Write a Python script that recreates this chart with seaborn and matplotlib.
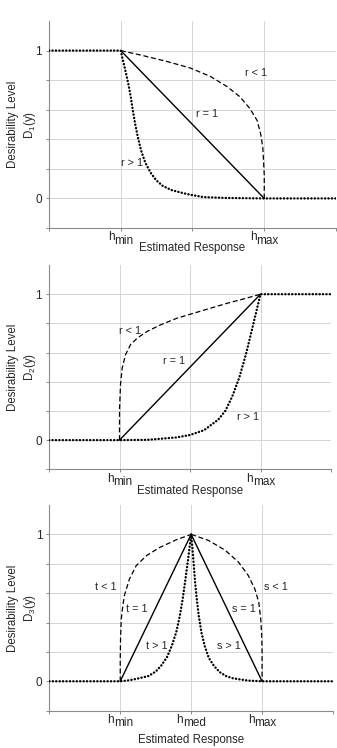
import numpy as np
import matplotlib
matplotlib.use("Agg")
import matplotlib.pyplot as plt
import seaborn as sns

# ---- data (x: 0..4, hmin=1, hmed=2, hmax=3) ----
# panel 1: D1(y), decreasing
d1_eq1_x = [1.0, 3.0]
d1_eq1_y = [1.0, 0.0]
d1_lt1_x = [1.0, 1.31, 1.64, 1.97, 2.25, 2.48, 2.66, 2.80, 2.90, 2.95, 2.98, 2.99, 3.0, 3.0]
d1_lt1_y = [1.0, 0.966, 0.927, 0.882, 0.825, 0.757, 0.688, 0.608, 0.528, 0.437, 0.346, 0.255, 0.16, 0.0]
d1_gt1_x = [0.0, 1.0, 1.023, 1.051, 1.079, 1.107, 1.135, 1.168, 1.200, 1.238, 1.284, 1.340,
            1.415, 1.494, 1.587, 1.704, 1.844, 1.937, 2.15, 2.48, 3.0, 4.0]
d1_gt1_y = [1.0, 1.0, 0.950, 0.893, 0.834, 0.772, 0.699, 0.597, 0.506, 0.415, 0.323, 0.244,
            0.175, 0.123, 0.084, 0.057, 0.039, 0.028, 0.009, 0.003, 0.0, 0.0]

# panel 2: D2(y), increasing
d2_eq1_x = [1.0, 3.0]
d2_eq1_y = [0.0, 1.0]
d2_lt1_x = [1.0, 1.0, 1.014, 1.038, 1.085, 1.156, 1.251, 1.392, 1.582, 1.818, 2.054, 2.291, 2.527, 2.764, 3.0]
d2_lt1_y = [0.0, 0.2, 0.38, 0.494, 0.585, 0.654, 0.699, 0.745, 0.790, 0.836, 0.870, 0.904, 0.938, 0.968, 1.0]
d2_gt1_x = [0.0, 1.0, 1.4, 1.8, 2.0, 2.2, 2.4, 2.5, 2.6, 2.7, 2.8, 2.85, 2.9, 2.95, 3.0, 4.0]
d2_gt1_y = [0.0, 0.0, 0.002, 0.018, 0.035, 0.068, 0.14, 0.2, 0.3, 0.43, 0.6, 0.7, 0.8, 0.9, 1.0, 1.0]

# panel 3: D3(y), two-sided
d3_eq1_x = [1.0, 2.0, 3.0]
d3_eq1_y = [0.0, 1.0, 0.0]
d3_tlt1_x = [1.0, 1.0, 1.005, 1.014, 1.033, 1.057, 1.129, 1.224, 1.367, 1.557, 1.795, 2.0]
d3_tlt1_y = [0.0, 0.15, 0.3, 0.42, 0.5, 0.581, 0.695, 0.786, 0.854, 0.911, 0.964, 1.0]
d3_slt1_x = [2.0, 2.243, 2.477, 2.664, 2.804, 2.897, 2.953, 2.981, 2.995, 3.0, 3.0]
d3_slt1_y = [1.0, 0.959, 0.893, 0.813, 0.721, 0.630, 0.539, 0.425, 0.311, 0.2, 0.0]
d3_tgt1_x = [0.0, 1.0, 1.1, 1.224, 1.40, 1.50, 1.58, 1.66, 1.73, 1.79, 1.84, 1.88, 1.913, 1.945, 1.975, 2.0]
d3_tgt1_y = [0.0, 0.0, 0.005, 0.016, 0.036, 0.066, 0.108, 0.165, 0.245, 0.335, 0.444, 0.558, 0.672, 0.786, 0.900, 1.0]
d3_sgt1_x = [2.0, 2.019, 2.038, 2.056, 2.080, 2.108, 2.146, 2.192, 2.249, 2.324, 2.404, 2.498, 2.592, 2.8, 3.0, 4.0]
d3_sgt1_y = [1.0, 0.900, 0.786, 0.672, 0.558, 0.444, 0.330, 0.239, 0.159, 0.103, 0.062, 0.034, 0.020, 0.005, 0.0, 0.0]

ticks_12 = [1, 3]
subs_12 = ["min", "max"]
ticks_3 = [1, 2, 3]
subs_3 = ["min", "med", "max"]

sns.set_theme(style="whitegrid")
plt.rcParams["font.family"] = ["Liberation Sans", "DejaVu Sans"]
plt.rcParams["mathtext.fontset"] = "custom"
plt.rcParams["mathtext.rm"] = "Liberation Sans"

GRID = "#d4d4d4"
AXC = "#8a8a8a"
hlabels = []


def style_axes(ax, ticks, subs, ylabel, xlab_y):
    ax.set_xlim(0, 4)
    ax.set_ylim(-0.2, 1.2)
    ax.set_xticks([0, 1, 2, 3, 4])
    ax.set_xticklabels([])
    ax.set_yticks([0, 1])
    ax.set_yticklabels(["0", "1"], fontsize=8.5)
    ax.set_yticks([-0.2, 0.2, 0.4, 0.6, 0.8], minor=True)
    ax.grid(True, which="major", color=GRID, lw=0.7)
    ax.grid(True, which="minor", axis="y", color=GRID, lw=0.7)
    ax.tick_params(axis="both", which="both", direction="out", length=2.5, width=0.7,
                   color=AXC, pad=2.5, bottom=True, left=True)
    for s in ["top", "right"]:
        ax.spines[s].set_visible(False)
    for s in ["left", "bottom"]:
        ax.spines[s].set_color(AXC)
        ax.spines[s].set_linewidth(0.8)
    # h with a full-size, lowered subscript, like the original tick labels
    for x, sub in zip(ticks, subs):
        t1 = ax.annotate("h", xy=(x, 0), xycoords=("data", "axes fraction"), xytext=(0, -9),
                         textcoords="offset points", ha="left", va="baseline", fontsize=8.5)
        t2 = ax.annotate(sub, xy=(x, 0), xycoords=("data", "axes fraction"), xytext=(0, -11.3),
                         textcoords="offset points", ha="left", va="baseline", fontsize=8.5)
        hlabels.append((t1, t2))
    ax.set_xlabel("Estimated Response", fontsize=8.3, va="baseline")
    ax.xaxis.set_label_coords(0.5, xlab_y)
    ax.set_ylabel(ylabel, fontsize=8.3, linespacing=1.25)
    ax.yaxis.set_label_coords(-0.039, 0.5)


def draw(ax, x, y, kind):
    if kind == "solid":
        sns.lineplot(x=x, y=y, ax=ax, estimator=None, sort=False, color="black", lw=1.0, zorder=3)
    elif kind == "dash":
        sns.lineplot(x=x, y=y, ax=ax, estimator=None, sort=False, color="black", lw=0.9,
                     linestyle=(0, (4, 2.2)), zorder=3)
    else:
        sns.lineplot(x=x, y=y, ax=ax, estimator=None, sort=False, color="black", lw=1.7,
                     linestyle=(0, (0.1, 1.35)), dash_capstyle="round", zorder=4)


fig = plt.figure(figsize=(3.37, 7.48), dpi=100)
ax1 = fig.add_axes([0.1454, 0.6952, 0.8516, 0.2767])
ax2 = fig.add_axes([0.1454, 0.3726, 0.8368, 0.2731])
ax3 = fig.add_axes([0.1463, 0.0499, 0.8418, 0.2750])

# panel 1
draw(ax1, d1_eq1_x, d1_eq1_y, "solid")
draw(ax1, d1_lt1_x, d1_lt1_y, "dash")
draw(ax1, d1_gt1_x, d1_gt1_y, "dot")
style_axes(ax1, ticks_12, subs_12, "Desirability Level\n$\\mathregular{D_1(y)}$", -0.112)
ax1.text(2.88, 0.85, "r < 1", fontsize=7.8, ha="center", va="center")
ax1.text(2.20, 0.57, "r = 1", fontsize=7.8, ha="center", va="center")
ax1.text(1.16, 0.24, "r > 1", fontsize=7.8, ha="center", va="center")

# panel 2
draw(ax2, d2_eq1_x, d2_eq1_y, "solid")
draw(ax2, d2_lt1_x, d2_lt1_y, "dash")
draw(ax2, d2_gt1_x, d2_gt1_y, "dot")
style_axes(ax2, ticks_12, subs_12, "Desirability Level\n$\\mathregular{D_2(y)}$", -0.12)
ax2.text(1.15, 0.75, "r < 1", fontsize=7.8, ha="center", va="center")
ax2.text(1.77, 0.54, "r = 1", fontsize=7.8, ha="center", va="center")
ax2.text(2.82, 0.155, "r > 1", fontsize=7.8, ha="center", va="center")

# panel 3
draw(ax3, d3_eq1_x, d3_eq1_y, "solid")
draw(ax3, d3_tlt1_x, d3_tlt1_y, "dash")
draw(ax3, d3_slt1_x, d3_slt1_y, "dash")
draw(ax3, d3_tgt1_x, d3_tgt1_y, "dot")
draw(ax3, d3_sgt1_x, d3_sgt1_y, "dot")
style_axes(ax3, ticks_3, subs_3, "Desirability Level\n$\\mathregular{D_3(y)}$", -0.158)
ax3.text(0.79, 0.64, "t < 1", fontsize=7.8, ha="center", va="center")
ax3.text(1.23, 0.49, "t = 1", fontsize=7.8, ha="center", va="center")
ax3.text(1.51, 0.24, "t > 1", fontsize=7.8, ha="center", va="center")
ax3.text(2.53, 0.24, "s > 1", fontsize=7.8, ha="center", va="center")
ax3.text(2.74, 0.49, "s = 1", fontsize=7.8, ha="center", va="center")
ax3.text(3.19, 0.64, "s < 1", fontsize=7.8, ha="center", va="center")

# centre each "h"+subscript pair on its tick
fig.canvas.draw()
renderer = fig.canvas.get_renderer()
for t1, t2 in hlabels:
    w1 = t1.get_window_extent(renderer).width * 72 / fig.dpi
    w2 = t2.get_window_extent(renderer).width * 72 / fig.dpi
    start = -(w1 + w2) / 2
    t1.set_position((start, -9))
    t2.set_position((start + w1, -11.3))

fig.savefig("out.png", dpi=100)
